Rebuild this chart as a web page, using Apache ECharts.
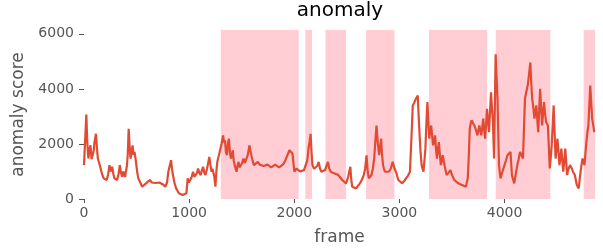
<!DOCTYPE html>
<html>
<head>
<meta charset="utf-8">
<script src="https://cdn.jsdelivr.net/npm/echarts@6/dist/echarts.min.js"></script>
<style>
  html, body { margin: 0; padding: 0; background: #fff; }
  #chart { width: 603px; height: 251px; }
</style>
</head>
<body>
<div id="chart"></div>
<script>
// anomaly score per frame
var frames = [0, 22, 32, 42, 52, 62, 72, 82, 92, 100, 114, 124, 132, 145, 158, 172, 187, 200, 216, 230, 242, 255, 268, 280, 290, 302, 315, 328, 341, 352, 363, 372, 381, 390, 399, 408, 416, 425, 434, 443, 452, 462, 471, 480, 489, 498, 507, 517, 535, 553, 572, 590, 608, 626, 645, 663, 682, 700, 718, 736, 755, 773, 790, 802, 815, 828, 837, 846, 860, 876, 889, 902, 920, 938, 956, 974, 986, 998, 1011, 1024, 1037, 1050, 1066, 1075, 1085, 1097, 1110, 1122, 1133, 1144, 1155, 1170, 1192, 1195, 1204, 1213, 1222, 1231, 1240, 1250, 1259, 1268, 1281, 1294, 1308, 1323, 1332, 1341, 1350, 1360, 1369, 1378, 1388, 1397, 1406, 1415, 1424, 1433, 1442, 1451, 1460, 1470, 1479, 1488, 1503, 1517, 1530, 1543, 1558, 1573, 1586, 1598, 1607, 1616, 1635, 1653, 1671, 1689, 1708, 1726, 1745, 1763, 1781, 1799, 1818, 1836, 1855, 1873, 1891, 1909, 1930, 1954, 1968, 1983, 1992, 2001, 2020, 2038, 2056, 2074, 2092, 2111, 2124, 2137, 2146, 2155, 2164, 2173, 2188, 2203, 2218, 2232, 2245, 2258, 2275, 2293, 2306, 2320, 2333, 2346, 2365, 2383, 2401, 2419, 2437, 2456, 2474, 2492, 2512, 2533, 2542, 2551, 2570, 2588, 2606, 2624, 2643, 2661, 2674, 2687, 2698, 2709, 2722, 2734, 2747, 2760, 2771, 2782, 2795, 2807, 2817, 2826, 2835, 2844, 2853, 2862, 2880, 2899, 2917, 2936, 2954, 2972, 2981, 2990, 3008, 3026, 3045, 3063, 3082, 3100, 3114, 3127, 3141, 3156, 3165, 3174, 3183, 3192, 3201, 3211, 3220, 3229, 3238, 3247, 3256, 3266, 3275, 3284, 3293, 3302, 3311, 3320, 3330, 3339, 3348, 3357, 3366, 3375, 3385, 3394, 3403, 3412, 3430, 3449, 3467, 3485, 3503, 3522, 3540, 3559, 3577, 3595, 3614, 3632, 3641, 3650, 3660, 3669, 3678, 3687, 3700, 3713, 3728, 3742, 3751, 3760, 3769, 3778, 3788, 3797, 3806, 3815, 3824, 3833, 3843, 3852, 3862, 3871, 3880, 3889, 3900, 3908, 3915, 3924, 3933, 3940, 3947, 3955, 3962, 3980, 3999, 4013, 4027, 4042, 4056, 4063, 4070, 4081, 4092, 4106, 4121, 4134, 4147, 4161, 4175, 4184, 4194, 4207, 4220, 4232, 4245, 4254, 4263, 4274, 4284, 4293, 4302, 4311, 4320, 4329, 4338, 4348, 4357, 4366, 4375, 4384, 4394, 4403, 4412, 4421, 4430, 4439, 4448, 4458, 4467, 4476, 4485, 4494, 4503, 4513, 4522, 4531, 4540, 4549, 4558, 4568, 4577, 4586, 4595, 4604, 4622, 4641, 4650, 4659, 4668, 4677, 4687, 4696, 4705, 4714, 4723, 4732, 4741, 4751, 4760, 4769, 4778, 4787, 4797, 4806, 4815, 4824, 4833, 4842, 4853];
var scores = [1230, 3070, 2000, 1470, 1800, 1950, 1450, 1590, 1750, 2070, 2370, 1800, 1470, 1300, 1110, 900, 750, 820, 690, 900, 1230, 1000, 1170, 900, 750, 820, 690, 900, 1230, 950, 810, 1000, 930, 800, 750, 1200, 1600, 2550, 1900, 1470, 1700, 1950, 1600, 1710, 1500, 1230, 950, 750, 600, 445, 500, 570, 620, 690, 600, 630, 580, 510, 600, 570, 520, 445, 600, 990, 1200, 1410, 1100, 870, 600, 385, 300, 205, 170, 145, 160, 205, 750, 600, 570, 800, 990, 800, 750, 950, 1110, 950, 870, 1050, 1170, 950, 870, 1100, 1530, 1530, 1200, 990, 1100, 1170, 800, 445, 1000, 1350, 1550, 1770, 2000, 2310, 2050, 2130, 1700, 1590, 2000, 2190, 1700, 1470, 1600, 1770, 1400, 1230, 1100, 990, 1200, 1350, 1150, 1170, 1300, 1470, 1300, 1290, 1600, 1950, 1700, 1470, 1350, 1230, 1300, 1350, 1250, 1290, 1200, 1170, 1250, 1290, 1150, 1110, 1250, 1290, 1150, 1110, 1250, 1350, 1550, 1770, 1700, 1650, 1300, 990, 1100, 1110, 1000, 990, 1050, 1050, 1400, 1890, 2100, 2370, 1700, 1230, 1100, 1050, 1200, 1350, 1100, 990, 1000, 1050, 1200, 1350, 1100, 990, 950, 930, 900, 870, 780, 690, 620, 570, 800, 1170, 700, 445, 400, 385, 450, 570, 700, 870, 1100, 1590, 1000, 750, 800, 870, 1100, 1470, 2100, 2670, 2000, 1590, 1900, 2190, 1600, 1230, 1100, 990, 1000, 990, 1100, 1350, 1100, 930, 800, 690, 620, 570, 650, 750, 850, 990, 2200, 3400, 3500, 3640, 3700, 3760, 3000, 2310, 1700, 1230, 1100, 990, 1400, 1830, 2700, 3520, 2800, 2190, 2500, 2670, 2300, 1950, 2100, 2310, 1800, 1470, 1800, 2070, 1600, 1230, 1400, 1590, 1200, 870, 950, 1050, 850, 690, 620, 570, 540, 510, 480, 445, 500, 750, 1600, 2550, 2750, 2860, 2750, 2670, 2500, 2310, 2500, 2670, 2500, 2310, 2600, 2920, 2500, 2190, 2700, 3280, 2800, 2430, 3200, 3880, 3300, 2800, 1470, 3500, 5260, 4400, 3640, 2400, 1230, 950, 750, 1000, 1230, 1400, 1590, 1650, 1710, 1300, 870, 700, 570, 900, 1230, 1450, 1710, 1600, 1470, 2500, 3640, 3900, 4120, 4500, 4960, 4200, 3640, 3300, 2920, 3150, 3400, 2900, 2430, 3200, 4000, 3300, 2670, 3100, 3520, 3150, 2800, 2750, 2670, 1900, 1110, 1500, 1950, 2700, 3400, 2400, 1470, 1800, 2190, 1700, 1230, 1500, 1830, 1400, 990, 1400, 1830, 1350, 870, 1050, 1230, 1100, 990, 930, 870, 700, 510, 450, 385, 700, 990, 1250, 1470, 1350, 1230, 1650, 2070, 2400, 2670, 3400, 4120, 3500, 2920, 2700, 2430, 2100, 1830];

// shaded frame ranges
var spanStart = [1301, 2105, 2296, 2683, 3281, 3916, 4752];
var spanEnd = [2042, 2169, 2493, 2953, 3834, 4435, 4860];

var yTicks = [0, 2000, 4000, 6000];
var xTicks = [0, 1000, 2000, 3000, 4000];

var points = frames.map(function (f, i) { return [f, scores[i]]; });
var areas = spanStart.map(function (s, i) { return [{xAxis: s}, {xAxis: spanEnd[i]}]; });

var chart = echarts.init(document.getElementById('chart'));
chart.setOption({
  animation: false,
  backgroundColor: '#fff',
  textStyle: {fontFamily: 'DejaVu Sans'},
  title: {
    text: 'anomaly',
    left: 340,
    textAlign: 'center',
    top: 1,
    padding: 0,
    textStyle: {fontFamily: 'DejaVu Sans', fontSize: 20, fontWeight: 'normal', color: '#000'}
  },
  grid: {left: 84, right: 8, top: 30, bottom: 50},
  xAxis: {
    type: 'value',
    min: 0,
    max: 4860,
    name: 'frame',
    nameLocation: 'middle',
    nameGap: 30,
    nameTextStyle: {fontSize: 17, color: '#555'},
    axisLine: {show: false},
    splitLine: {show: false},
    axisTick: {show: true, length: 4, customValues: xTicks, lineStyle: {color: '#555'}},
    axisLabel: {customValues: xTicks, fontSize: 14, color: '#555', margin: 7,
      formatter: function (v) { return String(v); }}
  },
  yAxis: {
    type: 'value',
    min: 0,
    max: 6140,
    name: 'anomaly score',
    nameLocation: 'middle',
    nameGap: 52,
    nameTextStyle: {fontSize: 17, color: '#555'},
    axisLine: {show: false},
    splitLine: {show: false},
    axisTick: {show: true, length: 5, customValues: yTicks, lineStyle: {color: '#555'}},
    axisLabel: {customValues: yTicks, fontSize: 14, color: '#555', margin: 10,
      formatter: function (v) { return String(v); }}
  },
  series: [{
    type: 'line',
    data: points,
    symbol: 'none',
    lineStyle: {color: '#E24A33', width: 2.2},
    itemStyle: {color: '#E24A33'},
    markArea: {
      silent: true,
      itemStyle: {color: '#FFCDD3'},
      data: areas
    }
  }]
});
</script>
</body>
</html>
